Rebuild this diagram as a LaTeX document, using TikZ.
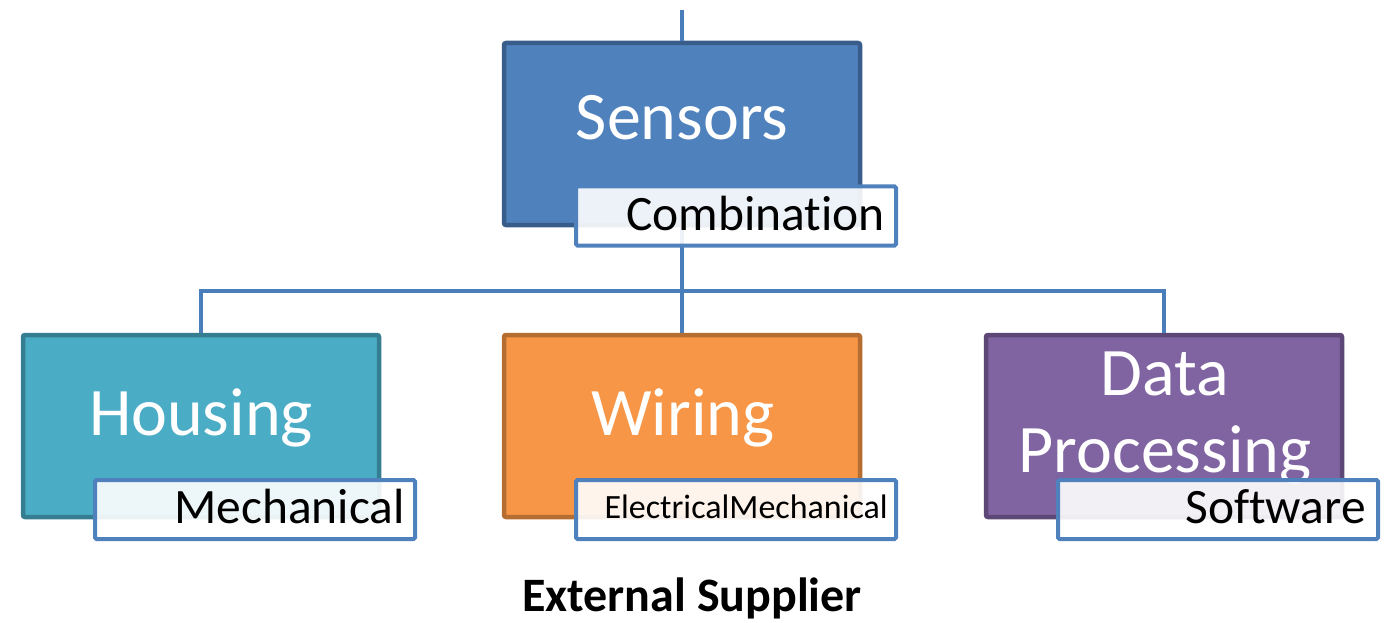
\documentclass[tikz,border=0pt]{standalone}
\usepackage{fontspec}
\setmainfont{Carlito}[Ligatures={NoCommon}]
\definecolor{conn}{HTML}{4A7EBB}
\definecolor{sensfill}{HTML}{4F81BD}\definecolor{sensline}{HTML}{385D8A}
\definecolor{housfill}{HTML}{4BACC6}\definecolor{housline}{HTML}{357D91}
\definecolor{wirfill}{HTML}{F79646}\definecolor{wirline}{HTML}{B66D31}
\definecolor{dpfill}{HTML}{8064A2}\definecolor{dpline}{HTML}{5C4776}
\definecolor{lblline}{HTML}{4F81BD}
\tikzset{
  mainbox/.style={rectangle, rounded corners=2pt, line width=4.5pt, minimum width=356pt, minimum height=182pt, inner sep=0pt},
  lblbox/.style={rectangle, rounded corners=1.5pt, line width=4pt, draw=lblline, fill=white, fill opacity=0.9, minimum width=320pt, minimum height=59pt, inner sep=0pt},
  bigtext/.style={anchor=base, inner sep=0pt, text=white, font=\fontsize{68}{68}\selectfont},
  lbltext/.style={anchor=base east, inner sep=0pt, text=black, font=\fontsize{49.5}{49.5}\selectfont},
  smalltext/.style={anchor=base east, inner sep=0pt, text=black, font=\fontsize{34}{34}\selectfont},
  connline/.style={draw=conn, line width=4pt}
}
\begin{document}
\begin{tikzpicture}[x=1pt,y=-1pt]
\useasboundingbox (0,0) rectangle (1385,623);
% boxes
\node[mainbox, draw=sensline, fill=sensfill] (sens) at (682,134) {};
\node[mainbox, draw=housline, fill=housfill] (hous) at (201,426) {};
\node[mainbox, draw=wirline, fill=wirfill] (wir) at (682,426) {};
\node[mainbox, draw=dpline, fill=dpfill] (dp) at (1164,426) {};
% connectors
\coordinate (top) at (682,10);
\coordinate (bus) at (682,291);
\draw[connline] (top) -- (sens.north);
\draw[connline] (sens.south) -- (bus);
\draw[connline] (bus) -| (hous.north);
\draw[connline] (bus) -- (wir.north);
\draw[connline] (bus) -| (dp.north);
% main texts
\node[bigtext] (senst) at (682,140) {Sensors};
\node[bigtext] (houst) at (201,435) {Housing};
\node[bigtext] (wirt) at (683,435) {Wiring};
\node[bigtext] (dpt1) at (1165,395) {Data};
\node[bigtext] (dpt2) at (1165,472) {Processing};
% labels
\node[lblbox] (comb) at (736,216) {};
\node[lblbox] (mech) at (255,509.5) {};
\node[lblbox] (elec) at (736,509.5) {};
\node[lblbox] (soft) at (1218,509.5) {};
\node[lbltext] (combt) at (885,230) {Combination};
\node[lbltext] (mecht) at (405,523) {Mechanical};
\node[smalltext] (elect) at (888,518) {ElectricalMechanical};
\node[lbltext] (softt) at (1366,523) {Software};
% caption
\node[anchor=base, inner sep=0pt, font=\bfseries\fontsize{48}{48}\selectfont] (cap) at (692,611) {External Supplier};
\end{tikzpicture}
\end{document}
